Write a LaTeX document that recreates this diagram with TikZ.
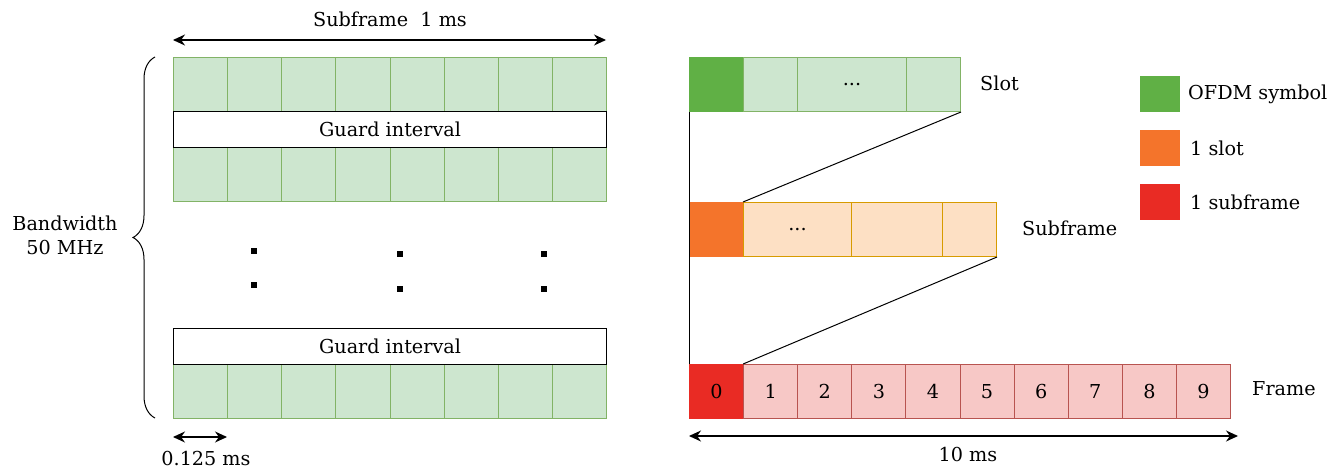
\documentclass[tikz,border=0pt]{standalone}
\usepackage{fontspec}
\setmainfont{DejaVu Serif}
\usetikzlibrary{arrows.meta,decorations.pathreplacing}
\definecolor{gfill}{HTML}{CDE6CF}
\definecolor{gline}{HTML}{82B366}
\definecolor{gdark}{HTML}{60B045}
\definecolor{ofill}{HTML}{FDE0C4}
\definecolor{oline}{HTML}{D79B00}
\definecolor{odark}{HTML}{F4742B}
\definecolor{rfill}{HTML}{F7C8C6}
\definecolor{rline}{HTML}{B85450}
\definecolor{rdark}{HTML}{E92B24}
\begin{document}
\begin{tikzpicture}[x=1pt,y=-1pt,
  font=\fontsize{19.2}{24}\selectfont,
  box/.style={draw, line width=1pt, inner sep=0pt, minimum height=54pt, anchor=north west},
  gcell/.style={box, draw=gline, fill=gfill, minimum width=54.125pt},
  guard/.style={draw=black, line width=1pt, fill=white, inner sep=0pt,
    minimum width=433pt, minimum height=36pt, anchor=north west},
  dot/.style={fill=black, inner sep=0pt, minimum size=6.5pt},
  dim/.style={line width=1.2pt, {Stealth[length=12pt,width=11pt]}-{Stealth[length=12pt,width=11pt]}},
  link/.style={line width=1pt},
  legend/.style={inner sep=0pt, minimum width=40pt, minimum height=36pt, anchor=north west},
  lbl/.style={inner sep=0pt}]
\useasboundingbox (0,0) rectangle (1329,468);

% ---- resource grid (left) ----
\foreach \r/\y in {a/57,b/147,c/364}
  \foreach \i in {0,...,7}
    \node[gcell] (\r\i) at ({173+54.125*\i},\y) {};
\node[guard] (g1) at (173,111) {Guard interval};
\node[guard] (g2) at (173,328) {Guard interval};

% vertical ellipsis between the rows
\node[dot] (d1) at (254,251) {};
\node[dot] (d2) at (254,285) {};
\node[dot] (d3) at (400,254) {};
\node[dot] (d4) at (400,289) {};
\node[dot] (d5) at (544,254) {};
\node[dot] (d6) at (544,289) {};

% subframe duration
\coordinate (s1) at (173,40);
\coordinate (s2) at (606,40);
\draw[dim] (s1) -- (s2);
\node[lbl] (sublbl) at (390,19) {Subframe\ \ 1 ms};

% symbol duration
\coordinate (t1) at (173,437);
\coordinate (t2) at (227,437);
\draw[dim] (t1) -- (t2);
\node[lbl] (symlbl) at (206,459) {0.125 ms};

% bandwidth brace
\coordinate (b1) at (155,418);
\coordinate (b2) at (155,57);
\draw[line width=1pt, decorate, decoration={brace, amplitude=22pt}] (b1) -- (b2);
\node[lbl, align=center] (bwlbl) at (65,235) {Bandwidth\\50 MHz};

% ---- frame structure (right) ----
% slot
\node[box, draw=gdark, fill=gdark, minimum width=54pt] (sl0) at (689,57) {};
\node[box, draw=gline, fill=gfill, minimum width=54pt] (sl1) at (743,57) {};
\node[box, draw=gline, fill=gfill, minimum width=109pt] (sl2) at (797,57) {...};
\node[box, draw=gline, fill=gfill, minimum width=54pt] (sl3) at (906,57) {};
\node[lbl, anchor=west] (slotlbl) at (980,83) {Slot};

% subframe
\node[box, draw=odark, fill=odark, minimum width=54pt] (sf0) at (689,202) {};
\node[box, draw=oline, fill=ofill, minimum width=108pt] (sf1) at (743,202) {...};
\node[box, draw=oline, fill=ofill, minimum width=91pt] (sf2) at (851,202) {};
\node[box, draw=oline, fill=ofill, minimum width=54pt] (sf3) at (942,202) {};
\node[lbl, anchor=west] (subflbl) at (1022,228) {Subframe};

% frame
\node[box, draw=rdark, fill=rdark, minimum width=54.1pt] (f0) at (689,364) {0};
\foreach \i in {1,...,9}
  \node[box, draw=rline, fill=rfill, minimum width=54.1pt] (f\i) at ({689+54.1*\i},364) {\i};
\node[lbl, anchor=west] (framelbl) at (1252,389) {Frame};

% frame duration
\coordinate (u1) at (689,436);
\coordinate (u2) at (1238,436);
\draw[dim] (u1) -- (u2);
\node[lbl] (framedur) at (968,455) {10 ms};

% zoom lines
\draw[link] (sl0.south west) -- (f0.north west);
\draw[link] (sf1.north west) -- (sl3.south east);
\draw[link] (f1.north west) -- (sf3.south east);

% legend
\node[legend, fill=gdark] (k1) at (1140,76) {};
\node[legend, fill=odark] (k2) at (1140,130) {};
\node[legend, fill=rdark] (k3) at (1140,184) {};
\node[lbl, anchor=west] (k1t) at (1188,94) {OFDM symbol};
\node[lbl, anchor=west] (k2t) at (1190,148) {1 slot};
\node[lbl, anchor=west] (k3t) at (1190,202) {1 subframe};
\end{tikzpicture}
\end{document}
